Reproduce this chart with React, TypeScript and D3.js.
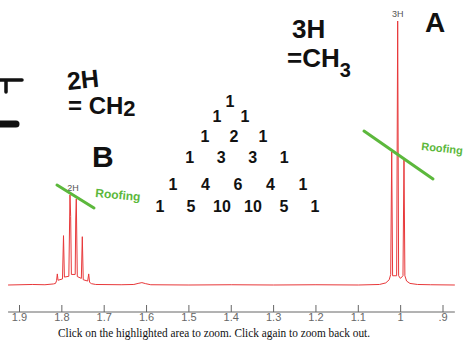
import React from "react";
import * as d3 from "d3";

const W = 472;
const H = 341;

// axis ticks (ppm) and their labels
const tickValues = [1.9, 1.8, 1.7, 1.6, 1.5, 1.4, 1.3, 1.2, 1.1, 1.0, 0.9];
const tickLabels = ["1.9", "1.8", "1.7", "1.6", "1.5", "1.4", "1.3", "1.2", "1.1", "1", ".9"];

// spectrum trace: [ppm, intensity]
const spectrum: [number, number][] = [
  [1.927, 0], [1.87, 0.2], [1.84, 0.1], [1.82, 0.4],
  [1.815, 0.6], [1.8125, 1.6], [1.8107, 4.2], [1.809, 1.8],
  [1.7985, 2.3], [1.7961, 18.7], [1.794, 3],
  [1.7835, 3.3], [1.7808, 34.1], [1.7792, 26], [1.7775, 4],
  [1.7685, 4], [1.7672, 25], [1.7659, 32.6], [1.7635, 3.2],
  [1.754, 2.5], [1.7517, 18.3], [1.7495, 2],
  [1.739, 1.5], [1.7366, 4.2], [1.7345, 1], [1.73, 0.5], [1.72, 0.2],
  [1.66, 0.1], [1.63, 0.2], [1.62, 0.6], [1.611, 0.9], [1.602, 0.5], [1.59, 0.1],
  [1.5, 0], [1.4, 0.1], [1.3, 0], [1.2, 0.1], [1.1, 0], [1.05, 0.2],
  [1.035, 0.8], [1.027, 2], [1.0235, 4], [1.0211, 50.4], [1.019, 3.5],
  [1.0095, 3.5], [1.007, 100], [1.0048, 3.5],
  [1.0005, 2.5], [0.9945, 3.5], [0.9921, 48], [0.99, 3.5],
  [0.986, 1.5], [0.978, 0.6], [0.96, 0.2], [0.93, 0.1], [0.872, 0],
];

// integration labels
const peakLabels = [
  { ppm: 1.007, value: 100, text: "3H" },
  { ppm: 1.7735, value: 34.1, text: "2H" },
];

// Pascal's triangle (handwritten)
const pascalRows = [
  [1],
  [1, 1],
  [1, 2, 1],
  [1, 3, 3, 1],
  [1, 4, 6, 4, 1],
  [1, 5, 10, 10, 5, 1],
];

const x = d3.scaleLinear().domain([1.9, 0.9]).range([19.5, 443]);
const y = d3.scaleLinear().domain([0, 100]).range([285, 21]);

const line = d3
  .line<[number, number]>()
  .x((d) => x(d[0]))
  .y((d) => y(d[1]));

const hand = "'Liberation Sans', Arial, sans-serif";
const green = "#5cb83c";

const pascalBase = [107, 122, 142, 163, 190, 212];
const pascalGap = [0, 28, 29, 31.5, 32.5, 31];
const pascalCx = [230, 231, 234, 237, 238, 237.5];

export default function App() {
  const axisY = 312;
  return (
    <svg
      width={W}
      height={H}
      style={{ position: "absolute", left: 0, top: 0, background: "#fff" }}
    >
      {/* spectrum */}
      <path d={line(spectrum) ?? ""} fill="none" stroke="#e8383a" strokeWidth={1} />

      {peakLabels.map((p) => (
        <text
          key={p.text}
          x={x(p.ppm)}
          y={y(p.value) - 4}
          textAnchor="middle"
          fontFamily="'Liberation Sans', Arial, sans-serif"
          fontSize={9}
          fill="#555"
        >
          {p.text}
        </text>
      ))}

      {/* axis */}
      <line x1={x(1.927)} x2={x(0.872)} y1={axisY} y2={axisY} stroke="#666" />
      {tickValues.map((t, i) => (
        <g key={t} transform={`translate(${x(t)},0)`}>
          <line y1={axisY - 7} y2={axisY} stroke="#666" />
          <text
            y={axisY + 9}
            textAnchor="middle"
            fontFamily="'Liberation Sans', Arial, sans-serif"
            fontSize={11}
            fill="#666"
          >
            {tickLabels[i]}
          </text>
        </g>
      ))}

      <text
        x={58}
        y={337}
        fontFamily="'Liberation Serif', 'Times New Roman', serif"
        fontSize={12.5}
        textLength={312}
        lengthAdjust="spacingAndGlyphs"
        fill="#111"
      >
        Click on the highlighted area to zoom. Click again to zoom back out.
      </text>

      {/* handwritten notes */}
      <g fontFamily={hand} fontWeight={700} fill="#111">
        <text x={292} y={38} fontSize={26}>3H</text>
        <text x={287} y={67} fontSize={26}>
          =CH<tspan dy={10} fontSize={20}>3</tspan>
        </text>
        <text x={425} y={32} fontSize={28}>A</text>
        <text x={68} y={90} fontSize={25} transform="rotate(-6 68 90)">2H</text>
        <text x={68} y={114} fontSize={24}>
          = CH<tspan dy={2} fontSize={22}>2</tspan>
        </text>
        <text x={92} y={167} fontSize={30}>B</text>
        {pascalRows.map((row, r) =>
          row.map((v, j) => (
            <text
              key={`${r}-${j}`}
              x={pascalCx[r] + (j - (row.length - 1) / 2) * pascalGap[r]}
              y={pascalBase[r]}
              textAnchor="middle"
              fontSize={16}
            >
              {v}
            </text>
          ))
        )}
      </g>
      <path d="M0,80 L22,80 M6,80 L6,92" stroke="#111" strokeWidth={3.5} strokeLinecap="round" fill="none" />
      <path d="M0,124 L16,124" stroke="#111" strokeWidth={7} strokeLinecap="round" fill="none" />

      {/* roofing notes */}
      <line x1={57} y1={185} x2={94} y2={208} stroke={green} strokeWidth={3} strokeLinecap="round" />
      <text x={95} y={197} fontSize={12} fontWeight={700} fontFamily={hand} fill={green} transform="rotate(5 95 197)">
        Roofing
      </text>
      <line x1={364} y1={131} x2={433} y2={179} stroke={green} strokeWidth={3} strokeLinecap="round" />
      <text x={421} y={150} fontSize={11} fontWeight={700} fontFamily={hand} fill={green} transform="rotate(6 421 150)">
        Roofing
      </text>
    </svg>
  );
}
